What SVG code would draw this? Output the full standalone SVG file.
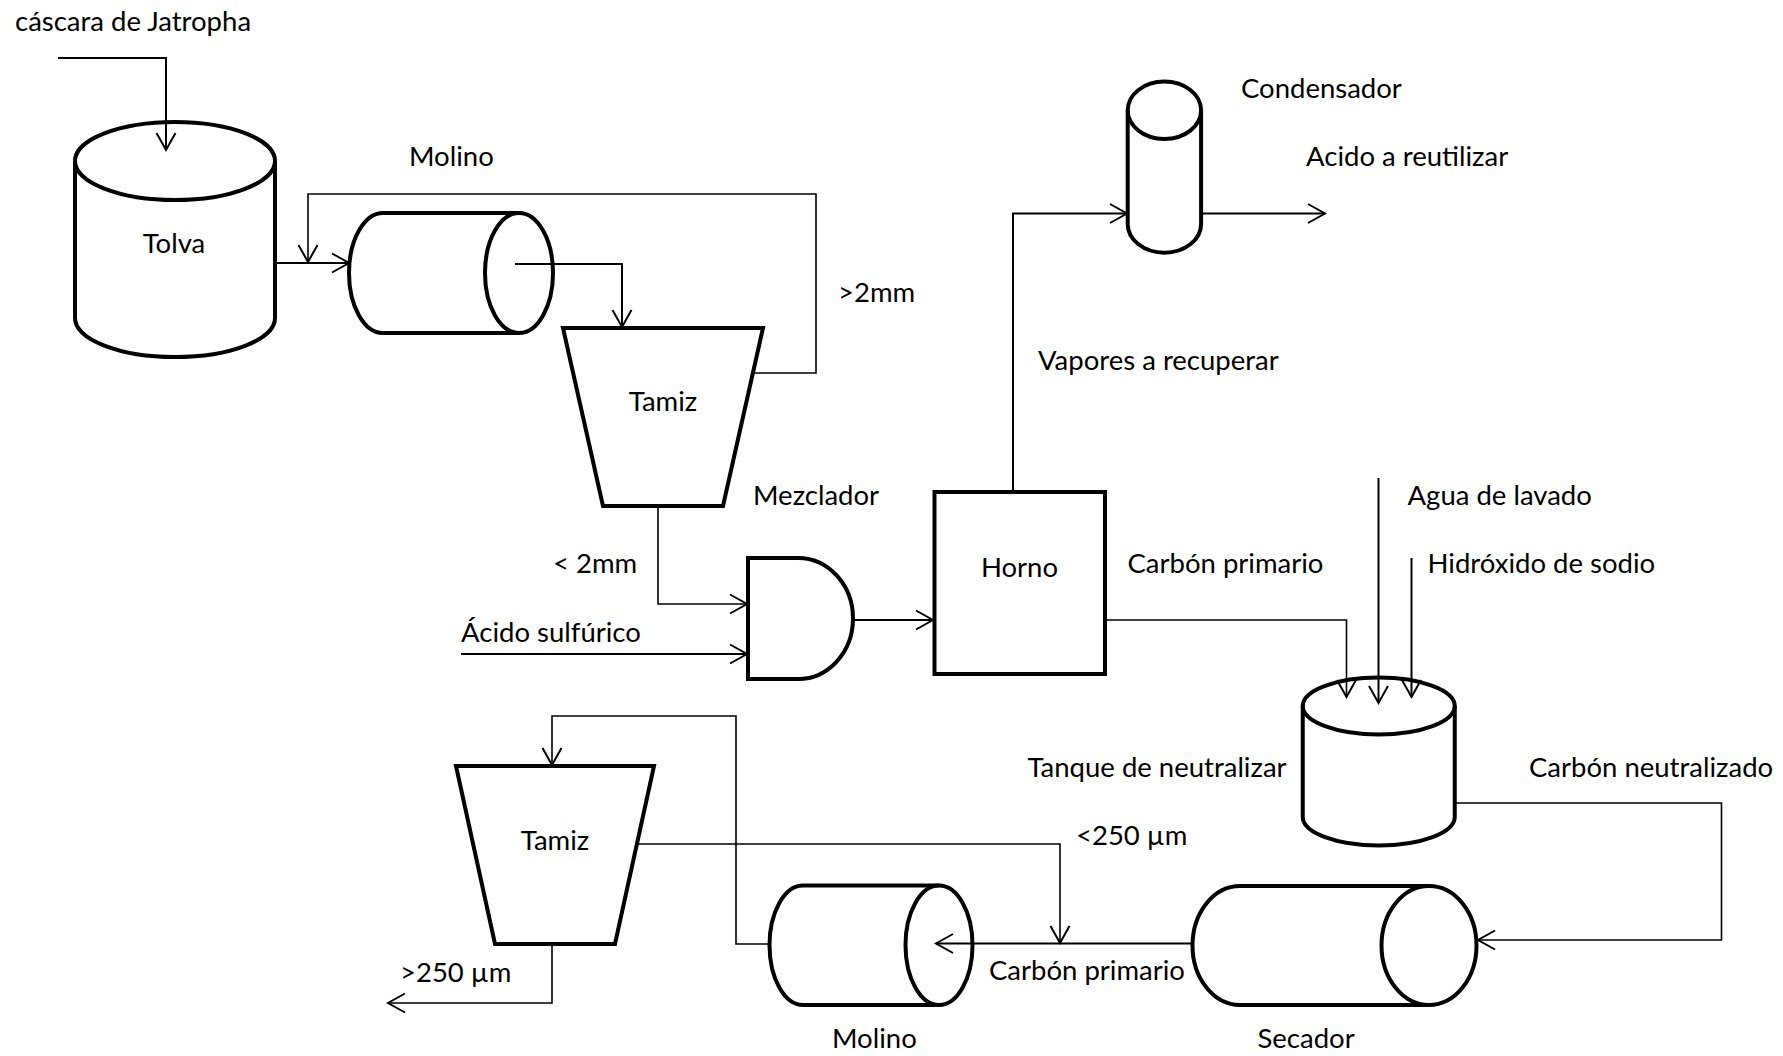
<svg xmlns="http://www.w3.org/2000/svg" width="1783" height="1056" viewBox="0 0 1783 1056">
<defs>
<marker id="arr" viewBox="-20 -12 24 24" refX="0" refY="0" markerWidth="24" markerHeight="24" markerUnits="userSpaceOnUse" orient="auto">
<path d="M-17,-9.5 L0,0 L-17,9.5" fill="none" stroke="#000" stroke-width="2"/>
</marker>
</defs>
<style>
text{font-family:Lato,"Liberation Sans",sans-serif;font-size:27.5px;fill:#000}
.sh{fill:none;stroke:#000;stroke-width:4;stroke-linejoin:miter}
.c{fill:none;stroke:#000;stroke-width:2}
.t{fill:none;stroke:#000;stroke-width:1.6}
.m{text-anchor:middle}
</style>
<rect width="1783" height="1056" fill="#fff"/>
<g id="connectors">
<path class="c" d="M58,58 H166 V150" marker-end="url(#arr)"/>
<path class="c" d="M275,263 H349" marker-end="url(#arr)"/>
<path class="t" d="M753,373 H816 V194 H308 V262" marker-end="url(#arr)"/>
<path class="c" d="M515,264 H622 V327" marker-end="url(#arr)"/>
<path class="t" d="M658,506 V604 H747" marker-end="url(#arr)"/>
<path class="c" d="M461,654 H747" marker-end="url(#arr)"/>
<path class="c" d="M853,620 H933" marker-end="url(#arr)"/>
<path class="c" d="M1013,492 V213.5 H1127" marker-end="url(#arr)"/>
<path class="c" d="M1202,213.5 H1325" marker-end="url(#arr)"/>
<path class="t" d="M1105,620 H1346.5 V697" marker-end="url(#arr)"/>
<path class="c" d="M1378.5,478 V703" marker-end="url(#arr)"/>
<path class="c" d="M1411.5,558 V697" marker-end="url(#arr)"/>
<path class="t" d="M1455,803 H1721.5 V940 H1478" marker-end="url(#arr)"/>
<path class="c" d="M1192.5,943.5 H936" marker-end="url(#arr)"/>
<path class="t" d="M637,844 H1060 V943" marker-end="url(#arr)"/>
<path class="t" d="M770,944 H736 V716 H552 V765" marker-end="url(#arr)"/>
<path class="t" d="M552,944 V1003 H388" marker-end="url(#arr)"/>
</g>
<g id="tolva">
<path class="sh" d="M75,161 V318 A100,39 0 0 0 275,318 V161"/>
<ellipse class="sh" cx="175" cy="161" rx="100" ry="39"/>
<text class="m" x="174" y="253">Tolva</text>
</g>
<g id="molino1">
<path class="sh" d="M519,213 H383 A34,60 0 0 0 383,333 H519"/>
<ellipse class="sh" cx="519" cy="273" rx="34" ry="60"/>
<text x="409" y="166">Molino</text>
</g>
<g id="tamiz1">
<polygon class="sh" points="563,328 763,328 723,506 603,506"/>
<text class="m" x="663" y="411">Tamiz</text>
</g>
<g id="mezclador">
<path class="sh" d="M748,558 H798 A55,60.5 0 0 1 798,679 H748 Z"/>
<text x="753" y="505">Mezclador</text>
</g>
<g id="horno">
<rect class="sh" x="934.5" y="492" width="170.5" height="182"/>
<text class="m" x="1019.5" y="577">Horno</text>
</g>
<g id="condensador">
<path class="sh" d="M1127.7,110.3 V224 A36.7,28.7 0 0 0 1201.1,224 V110.3"/>
<ellipse class="sh" cx="1164.4" cy="110.3" rx="36.7" ry="28.7"/>
<text x="1241" y="98">Condensador</text>
</g>
<g id="tanque">
<path class="sh" d="M1302.75,706 V817 A76,28.5 0 0 0 1454.75,817 V706"/>
<ellipse class="sh" cx="1378.75" cy="706" rx="76" ry="28.5"/>
<text x="1027.5" y="777">Tanque de neutralizar</text>
</g>
<g id="secador">
<path class="sh" d="M1429,886 H1240 A47.5,59.5 0 0 0 1240,1005 H1429"/>
<ellipse class="sh" cx="1429" cy="945.5" rx="47.5" ry="59.5"/>
<text x="1257.5" y="1048">Secador</text>
</g>
<g id="molino2">
<path class="sh" d="M939,885.6 H803 A33.5,59.7 0 0 0 803,1005 H939"/>
<ellipse class="sh" cx="939" cy="945.3" rx="33.5" ry="59.7"/>
<text x="832" y="1048">Molino</text>
</g>
<g id="tamiz2">
<polygon class="sh" points="456,766 654,766 615,944 495,944"/>
<text class="m" x="555" y="850">Tamiz</text>
</g>
<g id="labels">
<text x="15" y="31">cáscara de Jatropha</text>
<text x="838" y="302">&gt;2mm</text>
<text x="553" y="573">&lt; 2mm</text>
<text x="461" y="642">Ácido sulfúrico</text>
<text x="1306" y="166">Acido a reutilizar</text>
<text x="1038" y="370">Vapores a recuperar</text>
<text x="1127.5" y="573">Carbón primario</text>
<text x="1407.5" y="505">Agua de lavado</text>
<text x="1427.5" y="573">Hidróxido de sodio</text>
<text x="1529" y="777">Carbón neutralizado</text>
<text x="1076" y="845">&lt;250 µm</text>
<text x="989" y="980">Carbón primario</text>
<text x="400" y="982">&gt;250 µm</text>
</g>
</svg>
